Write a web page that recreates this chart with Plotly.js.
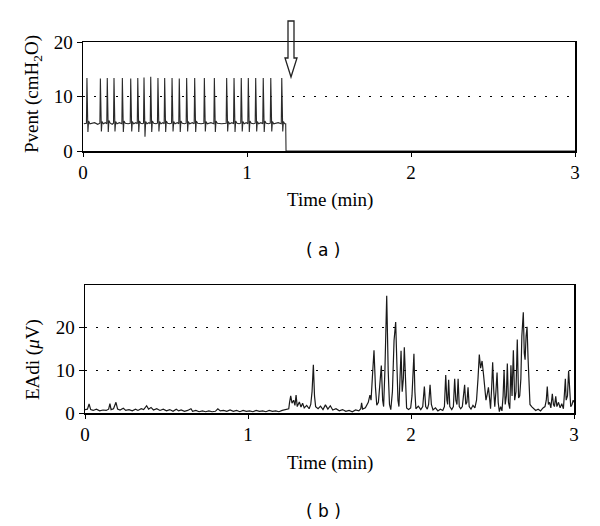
<!DOCTYPE html>
<html>
<head>
<meta charset="utf-8">
<script src="https://cdn.plot.ly/plotly-3.0.1.min.js"></script>
<style>html,body{margin:0;padding:0;background:#fff;}#chart{width:600px;height:526px;}</style>
</head>
<body>
<div id="chart"></div>
<script>
// ---- Panel (a): ventilator pressure (cmH2O) vs time (min)
var pventTime = [
0.005,0.018,0.021,0.024,0.030,0.034,0.042,0.070,0.090,
0.103,0.106,0.112,0.116,0.124,0.136,
0.145,0.148,0.154,0.158,0.166,0.178,
0.186,0.189,0.195,0.199,0.207,0.222,
0.237,0.240,0.246,0.250,0.258,0.275,
0.288,0.291,0.297,0.301,0.309,0.322,
0.331,0.334,0.340,0.344,0.352,0.362,
0.369,0.372,0.378,0.382,0.390,0.402,
0.410,0.413,0.419,0.423,0.431,0.445,
0.454,0.457,0.463,0.467,0.475,0.487,
0.495,0.498,0.504,0.508,0.516,0.530,
0.540,0.543,0.549,0.553,0.561,0.575,
0.584,0.587,0.593,0.597,0.605,0.620,
0.629,0.632,0.638,0.642,0.650,0.667,
0.678,0.681,0.687,0.691,0.699,0.720,
0.737,0.740,0.746,0.750,0.758,0.780,
0.798,0.801,0.807,0.811,0.819,0.845,
0.873,0.876,0.882,0.886,0.894,0.908,
0.918,0.921,0.927,0.931,0.939,0.952,
0.962,0.965,0.971,0.975,0.983,0.995,
1.005,1.008,1.014,1.018,1.026,1.040,
1.050,1.053,1.059,1.063,1.071,1.085,
1.096,1.099,1.105,1.109,1.117,1.132,
1.142,1.145,1.151,1.155,1.163,1.190,
1.209,1.212,1.218,1.222,1.230,1.236,1.238,3.0
];
var pventValue = [
5.0,5.1,5.1,13.4,3.5,5.5,5.0,5.2,4.9,
5.1,13.3,3.6,5.4,5.0,5.2,
5.0,13.4,3.5,5.6,5.1,4.9,
5.1,13.4,3.6,5.4,5.0,5.2,
5.0,13.4,3.5,5.5,5.1,5.0,
5.1,13.3,3.6,5.4,5.0,5.2,
5.0,13.4,3.5,5.5,5.1,5.0,
5.1,13.5,2.6,5.4,5.0,5.2,
5.0,13.6,3.5,5.5,5.1,5.0,
5.1,13.4,3.6,5.4,5.0,5.2,
5.0,13.4,3.5,5.5,5.1,5.0,
5.1,13.4,3.6,5.4,5.0,5.2,
5.0,13.3,3.5,5.5,5.1,5.0,
5.1,13.4,3.6,5.4,5.0,5.2,
5.0,13.4,3.5,5.5,5.1,5.0,
5.1,13.4,3.6,5.4,5.0,5.2,
5.0,13.4,3.5,5.5,5.1,5.0,
5.1,13.4,3.6,5.4,5.0,5.2,
5.0,13.4,3.5,5.5,5.1,5.0,
5.1,13.4,3.6,5.4,5.0,5.2,
5.0,13.4,3.5,5.5,5.1,5.0,
5.1,13.4,3.6,5.4,5.0,5.2,
5.0,13.4,3.5,5.5,5.1,5.0,
5.1,13.4,3.6,5.4,5.0,5.2,
5.0,13.4,3.6,5.4,5.0,5.0,0.0,0.0
];

// ---- Panel (b): diaphragm electrical activity (µV) vs time (min)
var eadiTime = [
0.00,0.015,0.025,0.035,0.05,0.07,0.09,0.11,0.13,0.145,0.153,0.16,0.175,0.19,0.20,0.215,0.235,0.25,0.27,0.29,
0.31,0.325,0.345,0.36,0.378,0.39,0.405,0.42,0.44,0.46,0.48,0.50,0.52,0.54,0.56,0.575,0.59,0.61,0.63,0.65,
0.66,0.68,0.70,0.72,0.74,0.76,0.78,0.80,0.815,0.83,0.85,0.87,0.89,0.91,0.93,0.95,0.97,0.99,1.01,1.03,
1.05,1.07,1.09,1.11,1.13,1.15,1.17,1.19,1.21,1.23,1.25,1.255,1.262,1.270,1.280,1.288,1.295,1.302,1.315,1.325,
1.335,1.345,1.36,1.375,1.385,1.393,1.401,1.408,1.415,1.43,1.445,1.46,1.475,1.49,1.505,1.52,1.54,1.56,1.58,1.60,
1.62,1.64,1.66,1.68,1.692,1.697,1.703,1.72,1.738,1.748,1.755,1.764,1.773,1.782,1.790,1.800,1.808,1.818,1.826,1.832,
1.840,1.851,1.860,1.868,1.876,1.886,1.896,1.906,1.913,1.920,1.926,1.934,1.939,1.946,1.953,1.959,1.966,1.973,1.985,1.998,
2.006,2.013,2.018,2.024,2.030,2.045,2.060,2.072,2.082,2.090,2.100,2.108,2.117,2.125,2.135,2.150,2.165,2.180,2.195,2.205,
2.213,2.220,2.225,2.231,2.238,2.250,2.260,2.268,2.275,2.282,2.289,2.296,2.305,2.315,2.322,2.329,2.336,2.343,2.350,2.357,
2.368,2.380,2.392,2.402,2.411,2.419,2.427,2.436,2.445,2.453,2.460,2.468,2.475,2.482,2.488,2.495,2.501,2.508,2.514,2.521,
2.528,2.535,2.542,2.550,2.558,2.565,2.571,2.578,2.585,2.591,2.598,2.606,2.613,2.620,2.628,2.636,2.644,2.652,2.660,2.667,
2.674,2.680,2.689,2.695,2.700,2.706,2.712,2.718,2.724,2.730,2.740,2.752,2.765,2.780,2.795,2.810,2.822,2.830,2.836,2.843,
2.850,2.858,2.867,2.874,2.880,2.888,2.895,2.905,2.915,2.925,2.935,2.942,2.947,2.952,2.960,2.967,2.974,2.980,2.988,2.995,
3.000
];
var eadiValue = [
0.8,0.9,2.1,0.8,0.6,0.9,0.5,0.7,0.6,0.9,2.2,0.8,1.0,2.5,0.9,0.7,1.1,0.6,0.8,0.5,
0.9,0.6,1.0,0.8,1.7,0.9,1.3,0.7,1.0,0.6,0.9,0.5,0.8,0.4,0.9,0.5,0.7,0.4,0.6,1.0,
0.4,0.6,0.3,0.5,0.3,0.5,0.3,0.4,1.0,0.5,0.6,0.4,0.7,0.4,0.6,0.3,0.6,0.4,0.5,0.3,
0.6,0.4,0.5,0.3,0.6,0.4,0.5,0.3,0.6,0.8,1.0,2.5,4.0,2.3,3.0,1.8,4.2,1.5,2.6,1.4,
2.3,1.2,1.8,1.0,2.0,5.0,11.3,4.0,1.5,1.0,1.6,0.8,1.9,0.9,1.7,0.7,1.0,0.5,0.8,0.4,
0.6,0.3,0.7,0.5,1.0,2.4,0.9,1.2,2.5,4.2,3.0,9.0,14.7,6.0,1.8,2.5,6.0,11.1,3.0,1.5,
10.0,27.5,10.0,2.0,0.8,5.0,17.0,21.3,12.0,3.0,1.5,9.0,14.6,5.0,8.0,15.4,6.0,1.2,0.8,1.2,
4.0,9.0,13.9,5.0,1.0,1.6,0.8,1.5,6.2,1.5,0.9,2.0,6.6,2.0,0.7,1.2,0.5,0.9,0.6,1.5,
8.9,3.0,2.0,7.8,1.5,0.8,1.5,8.0,3.0,2.0,8.0,1.5,1.0,1.5,4.0,6.6,2.0,2.5,6.0,1.5,
0.9,1.8,1.2,3.0,8.0,13.7,10.5,12.2,9.0,5.5,3.0,4.5,6.0,3.5,1.0,6.0,11.9,5.0,1.5,5.0,
9.5,2.5,0.3,1.5,0.5,4.0,10.1,2.0,4.0,11.6,2.5,1.0,11.2,4.0,14.7,3.0,5.0,17.2,3.5,4.0,
8.0,18.0,23.6,14.0,12.5,18.0,20.2,13.0,5.0,2.0,1.5,1.0,0.6,0.9,0.5,1.2,1.5,3.0,6.2,2.0,
2.5,1.2,4.5,2.0,1.5,3.9,1.5,2.5,1.2,2.2,1.0,5.0,8.0,3.0,4.0,9.9,4.0,1.5,2.0,3.0,
2.5
];

var xTicks = [0, 1, 2, 3];
var pventTicks = [0, 10, 20];
var eadiTicks = [0, 10, 20];

var serif = 'Liberation Serif, Times New Roman, serif';
var sans = 'DejaVu Sans, Verdana, sans-serif';

var traces = [
  {x: pventTime, y: pventValue, xaxis: 'x', yaxis: 'y', type: 'scatter', mode: 'lines',
   line: {color: '#2a2a2a', width: 1.1}, hoverinfo: 'skip', showlegend: false},
  {x: eadiTime, y: eadiValue, xaxis: 'x2', yaxis: 'y2', type: 'scatter', mode: 'lines',
   line: {color: '#1a1a1a', width: 1.2}, hoverinfo: 'skip', showlegend: false}
];

function xAxis(domain, anchor) {
  return {domain: domain, anchor: anchor, range: [0, 3], tickvals: xTicks,
    ticktext: xTicks.map(String), ticks: 'outside', ticklen: 4, tickcolor: '#000',
    showline: true, linecolor: '#000', linewidth: 1.5, mirror: true,
    showgrid: false, zeroline: false, fixedrange: true,
    tickfont: {family: serif, size: 19, color: '#000'}};
}
function yAxis(domain, anchor, range, ticks) {
  return {domain: domain, anchor: anchor, range: range, tickvals: ticks,
    ticktext: ticks.map(String), ticks: 'outside', ticklen: 5, tickcolor: '#000',
    showline: true, linecolor: '#000', linewidth: 1.5, mirror: true,
    showgrid: true, gridcolor: '#000', gridwidth: 1.2, griddash: '1.5px,9.5px',
    zeroline: false, fixedrange: true,
    tickfont: {family: serif, size: 19, color: '#000'}};
}

var H = 526, W = 600;
function py(p) { return 1 - p / H; }
function px(p) { return p / W; }

var layout = {
  width: W, height: H,
  margin: {l: 0, r: 0, t: 0, b: 0},
  paper_bgcolor: '#fff', plot_bgcolor: 'rgba(0,0,0,0)',
  showlegend: false,
  xaxis: xAxis([px(83), px(575)], 'y'),
  yaxis: yAxis([py(151), py(42)], 'x', [0, 20], pventTicks),
  xaxis2: xAxis([px(85), px(574)], 'y2'),
  yaxis2: yAxis([py(413), py(285)], 'x2', [0, 30], eadiTicks),
  annotations: [
    {text: 'Time (min)', xref: 'paper', yref: 'paper', x: px(330), y: py(200),
     showarrow: false, xanchor: 'center', yanchor: 'middle', font: {family: serif, size: 19, color: '#000'}},
    {text: 'Time (min)', xref: 'paper', yref: 'paper', x: px(330), y: py(463),
     showarrow: false, xanchor: 'center', yanchor: 'middle', font: {family: serif, size: 19, color: '#000'}},
    {text: 'Pvent (cmH<sub>2</sub>O)', xref: 'paper', yref: 'paper', x: px(33), y: py(94), textangle: -90,
     showarrow: false, xanchor: 'center', yanchor: 'middle', font: {family: serif, size: 19, color: '#000'}},
    {text: 'EAdi (<i>μ</i>V)', xref: 'paper', yref: 'paper', x: px(33), y: py(360), textangle: -90,
     showarrow: false, xanchor: 'center', yanchor: 'middle', font: {family: serif, size: 19, color: '#000'}},
    {text: '( a )', xref: 'paper', yref: 'paper', x: px(323), y: py(250),
     showarrow: false, xanchor: 'center', yanchor: 'middle', font: {family: sans, size: 17, color: '#000'}},
    {text: '( b )', xref: 'paper', yref: 'paper', x: px(323), y: py(511),
     showarrow: false, xanchor: 'center', yanchor: 'middle', font: {family: sans, size: 17, color: '#000'}}
  ],
  shapes: [
    {type: 'path', xref: 'paper', yref: 'paper', layer: 'above',
     path: 'M ' + px(288) + ',' + py(21) + ' L ' + px(294) + ',' + py(21) +
           ' L ' + px(294) + ',' + py(58) + ' L ' + px(297) + ',' + py(58) +
           ' L ' + px(291) + ',' + py(77) + ' L ' + px(285) + ',' + py(58) +
           ' L ' + px(288) + ',' + py(58) + ' Z',
     fillcolor: 'rgba(255,255,255,0)', line: {color: '#222', width: 1.3}}
  ]
};

Plotly.newPlot('chart', traces, layout, {staticPlot: true, displayModeBar: false});
</script>
</body>
</html>
